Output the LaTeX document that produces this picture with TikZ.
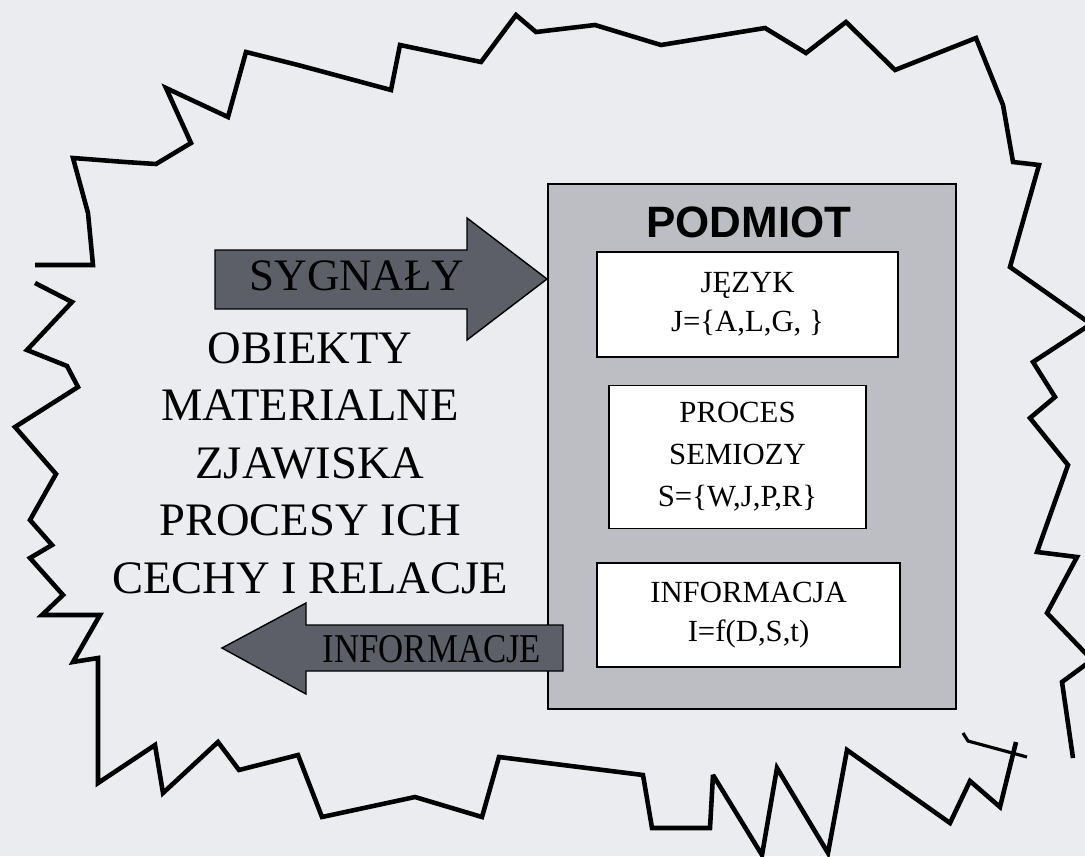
\documentclass[tikz,border=0pt]{standalone}
\usepackage{graphicx}
\usepackage{fontspec}
\setmainfont{Liberation Serif}
\newfontfamily\titlefont{Liberation Sans}
\definecolor{paper}{RGB}{234,236,240}
\definecolor{podmiotgray}{RGB}{188,190,195}
\definecolor{arrowgray}{RGB}{92,94,104}
\tikzset{jagged/.style={line width=2.6pt,line join=miter,miter limit=3},
 blockarrow/.style={fill=arrowgray,draw=black,line width=0.8pt},
 innerbox/.style={draw=black,fill=white,line width=0.8pt,align=center,inner sep=0pt,
  font=\fontsize{17.5}{22}\selectfont},
 arrowtext/.style={font=\fontsize{25.6}{30}\selectfont,inner sep=0pt},
 bigtext/.style={font=\fontsize{26.5}{32.7}\selectfont,align=center,inner sep=0pt}}

\begin{document}
\begin{tikzpicture}[x=0.02cm,y=-0.02cm]
\clip (0,0) rectangle (1085,856);
\fill[paper] (0,0) rectangle (1085,856);
\draw[jagged] (35,265)--(93,265)--(88,213)--(73,158)--(125,162)--(156,164)--(191,143)
 --(166,88)--(228,117)--(246,52)--(298,65)--(391,90)--(400,45)--(481,62)--(516,15)
 --(536,32)--(595,25)--(661,45)--(765,28)--(806,53)--(846,22)--(895,70)--(976,38)
 --(1003,105)--(1013,162)--(1039,165)--(1010,267)--(1091,324)--(1033,362)--(1055,397)
 --(1030,418)--(1068,465)--(1037,552)--(1077,557)--(1047,613)--(1092,660)--(1062,682)
 --(1073,758);
\draw[jagged] (35,283)--(72,302)--(27,350)--(67,366)--(78,387)--(15,427)--(56,474)
 --(30,520)--(52,545)--(30,558)--(63,595)--(42,615)--(100,615)--(73,662)--(98,658)
 --(98,783)--(155,745)--(163,793)--(218,742)--(239,770)--(298,755)--(322,817)
 --(415,797)--(482,817)--(499,757)--(643,775)--(652,828)--(710,828)--(713,775)
 --(762,855)--(777,768)--(828,853)--(847,750)--(950,823)--(970,781)--(1000,807)
 --(1016,742);
\draw[line width=1.8pt] (963,733)--(968,741)--(1027,757);
\node[draw=black,fill=podmiotgray,line width=0.8pt,inner sep=0pt,
 minimum width=8.16cm,minimum height=10.5cm] (podmiot) at (752,446.5) {};
\node[font=\titlefont\bfseries\fontsize{25}{30}\selectfont,inner sep=0pt]
 (podmiottitle) at (749,222) {PODMIOT};
\node[innerbox,minimum width=6.02cm,minimum height=2.1cm] (jezyk) at (747.5,304.5)
 {JĘZYK\\J=\{A,L,G, \}};
\node[innerbox,minimum width=5.14cm,minimum height=2.86cm,
 font=\fontsize{17.5}{24}\selectfont] (semioza) at (737.5,457)
 {PROCES\\SEMIOZY\\S=\{W,J,P,R\}};
\node[innerbox,minimum width=6.06cm,minimum height=2.08cm] (informacja) at (748.5,615)
 {INFORMACJA\\I=f(D,S,t)};
\filldraw[blockarrow] (215,250)--(467,250)--(467,218)--(547,279)--(467,340)--(467,309)
 --(215,309)--cycle;
\node[arrowtext] (sygnaly) at (357,276) {SYGNAŁY};
\filldraw[blockarrow] (563,625)--(306,625)--(306,603)--(222,648)--(306,694)--(306,671)
 --(563,671)--cycle;
\node[arrowtext,font=\fontsize{23.3}{28}\selectfont] (informacje) at (432,649)
 {\scalebox{0.85}[1]{INFORMACJE}};
\node[bigtext] (obiekty) at (310,463)
 {OBIEKTY\\MATERIALNE\\ZJAWISKA\\PROCESY ICH\\CECHY I RELACJE};
\end{tikzpicture}
\end{document}
